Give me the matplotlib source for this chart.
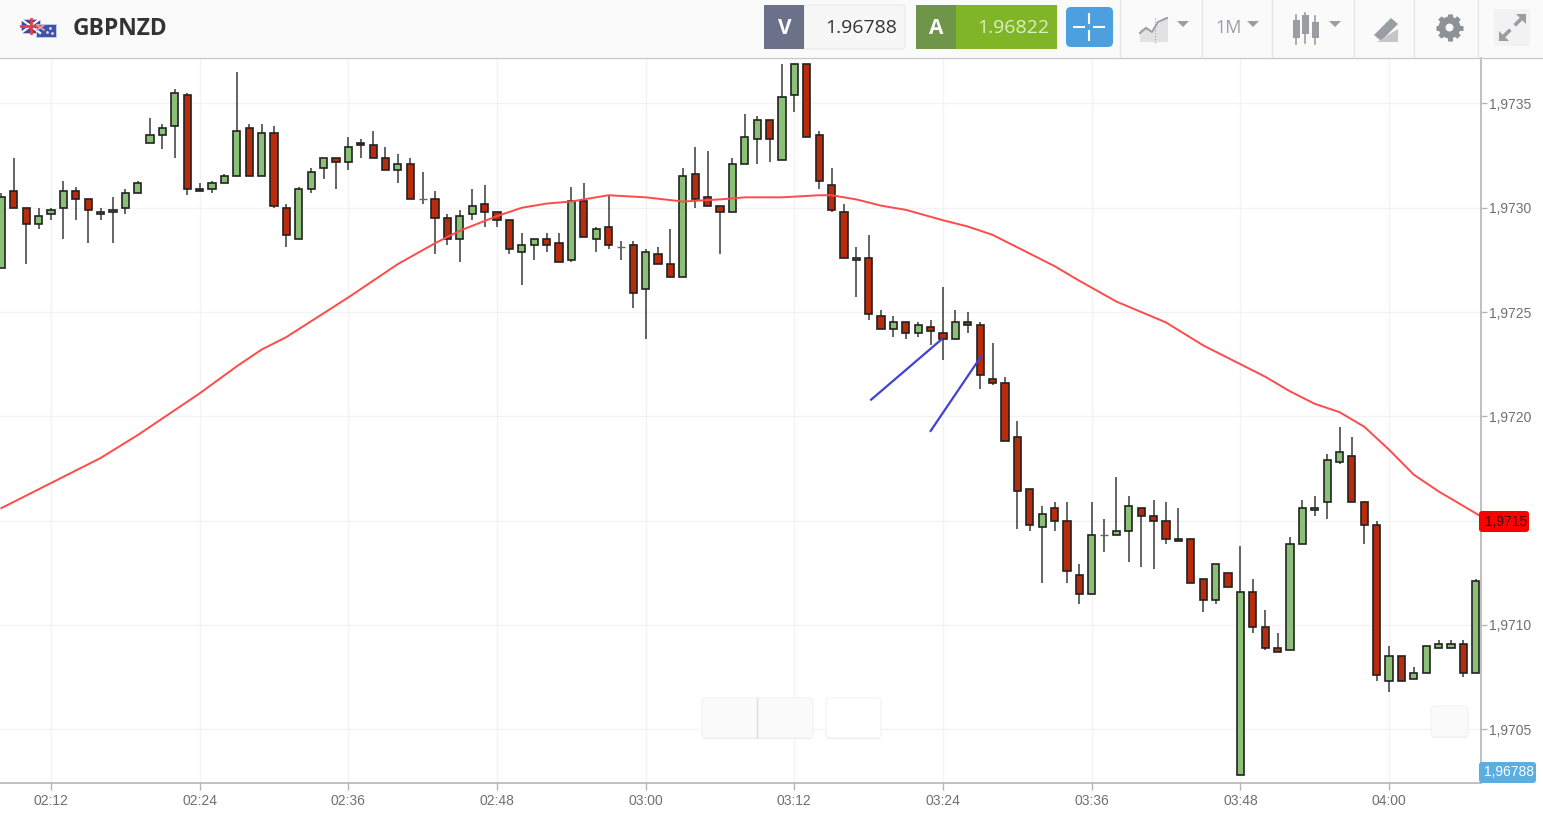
"""GBPNZD one minute candles with moving average, trading platform look."""
import math

import matplotlib
matplotlib.use("Agg")
import matplotlib.pyplot as plt
from matplotlib.patches import Circle, FancyBboxPatch, Polygon, Rectangle

# prices are stored as 1e-5 steps above this level
BASE = 1.97
STEP = 1e-5

opens = [271, 308, 300, 292, 297, 300, 308, 304, 297, 298, 300, 307, 331, 335, 339, 354, 309, 309, 312, 315,
         338, 315, 336, 300, 285, 309, 319, 324, 322, 331, 330, 324, 318, 321, 304, 304, 295, 285, 297, 302,
         298, 294, 279, 282, 285, 283, 275, 303, 285, 291, 281, 282, 261, 278, 273, 267, 316, 305, 301, 298,
         321, 333, 342, 323, 354, 369, 335, 311, 298, 275, 276, 248, 242, 245, 240, 243, 240, 237, 245, 244,
         218, 216, 190, 165, 147, 156, 150, 124, 115, 143, 143, 145, 156, 152, 150, 141, 141, 122, 112, 125,
         28, 116, 99, 89, 88, 139, 155, 159, 178, 181, 159, 148, 73, 85, 74, 77, 89, 89, 91, 77]
highs = [307, 324, 300, 300, 300, 313, 310, 304, 300, 305, 309, 313, 343, 340, 357, 355, 312, 313, 316, 365,
         340, 340, 339, 302, 310, 319, 324, 324, 334, 333, 337, 329, 326, 324, 317, 308, 297, 299, 309, 311,
         298, 294, 288, 285, 288, 288, 310, 312, 291, 306, 284, 284, 280, 281, 290, 319, 329, 327, 301, 324,
         345, 344, 342, 369, 369, 369, 337, 319, 302, 281, 287, 251, 248, 245, 245, 246, 262, 251, 250, 245,
         235, 219, 198, 165, 157, 159, 159, 129, 159, 151, 171, 162, 156, 160, 159, 156, 141, 122, 129, 125,
         138, 122, 107, 96, 142, 160, 162, 182, 195, 190, 159, 150, 90, 85, 80, 90, 93, 93, 93, 122]
lows = [271, 300, 273, 290, 294, 285, 294, 283, 294, 283, 297, 307, 331, 328, 324, 306, 308, 307, 312, 315,
        315, 315, 300, 281, 285, 307, 314, 309, 318, 324, 324, 318, 312, 304, 302, 278, 282, 274, 294, 291,
        291, 278, 263, 275, 279, 274, 274, 286, 279, 280, 275, 252, 237, 273, 267, 267, 300, 301, 278, 298,
        321, 321, 322, 323, 346, 334, 309, 298, 276, 257, 246, 242, 238, 237, 238, 234, 227, 237, 240, 213,
        215, 188, 146, 145, 120, 145, 120, 110, 115, 135, 143, 130, 128, 127, 139, 140, 120, 106, 110, 118,
        28, 96, 88, 87, 88, 139, 152, 151, 177, 159, 139, 73, 68, 73, 74, 77, 89, 89, 75, 77]
closes = [305, 300, 292, 296, 299, 308, 304, 299, 298, 299, 307, 312, 335, 338, 355, 309, 308, 312, 315, 337,
          315, 336, 301, 287, 309, 317, 324, 322, 329, 330, 324, 318, 321, 304, 304, 295, 285, 296, 301, 298,
          294, 280, 282, 285, 282, 274, 303, 286, 290, 282, 281, 259, 279, 273, 267, 315, 304, 301, 298, 321,
          334, 342, 333, 353, 369, 334, 313, 299, 276, 276, 249, 242, 245, 240, 244, 241, 237, 245, 244, 220,
          216, 188, 164, 148, 153, 150, 126, 115, 143, 143, 145, 157, 152, 150, 141, 140, 120, 112, 129, 118,
          116, 99, 89, 87, 139, 156, 156, 179, 183, 159, 148, 76, 85, 73, 77, 90, 91, 91, 77, 121]

ma_index = [0, 4, 8, 11, 14, 16, 19, 21, 23, 28, 32, 35, 37, 40, 42, 44, 46, 48, 49, 52, 55, 58, 60, 63, 66, 67,
            69, 71, 73, 76, 78, 80, 82, 85, 87, 90, 94, 97, 102, 104, 106, 108, 110, 112, 114, 116, 118, 119.42]
ma_values = [156, 168, 180, 191, 203, 211, 224, 232, 238, 257, 273, 283, 289, 296, 300, 302, 303, 305, 306, 305,
             303, 304, 305, 305, 306, 306, 304, 301, 299, 294, 291, 287, 281, 272, 265, 255, 245, 234, 219, 212,
             206, 202, 195, 184, 172, 164, 157, 152]

# hand drawn lines on the chart, candle index and price step
trend1_x = [70.2, 75.9]
trend1_y = [208, 237]
trend2_x = [75.0, 79.1]
trend2_y = [193, 229]

y_ticks = [1.9705, 1.9710, 1.9715, 1.9720, 1.9725, 1.9730, 1.9735]
y_labels = ["1,9705", "1,9710", "", "1,9720", "1,9725", "1,9730", "1,9735"]  # 1,9715 sits in the red tag
x_ticks = [4, 16, 28, 40, 52, 64, 76, 88, 100, 112]
x_labels = ["02:12", "02:24", "02:36", "02:48", "03:00", "03:12", "03:24", "03:36", "03:48", "04:00"]

GREEN = "#8bc077"
RED = "#b92b0a"
GREY = "#707070"
ICON = "#9a9da1"
SANS = "Liberation Sans"
HEAD = "Open Sans"
W, H = 1543, 818


def price(steps):
    return [BASE + s * STEP for s in steps]


def box(ax, x0, y0, x1, y1, color, edge="none", radius=3, **kw):
    ax.add_patch(FancyBboxPatch((x0 + radius, y0 + radius), x1 - x0 - 2 * radius, y1 - y0 - 2 * radius,
                                boxstyle=f"round,pad={radius},rounding_size={radius}",
                                fc=color, ec=edge, lw=1, **kw))


def draw_candles(ax):
    for i, (o, h, l, c) in enumerate(zip(price(opens), price(highs), price(lows), price(closes))):
        ax.vlines(i, l, h, color="#3a3a3a", lw=1.1, zorder=2)
        if opens[i] == closes[i]:
            ax.hlines(o, i - 0.33, i + 0.33, color="#666666", lw=1, zorder=3)
            continue
        ax.bar(i, abs(c - o), bottom=min(o, c), width=0.58, color=GREEN if c > o else RED,
               edgecolor="#222222", linewidth=1.2, zorder=3)


def draw_flags(ov):
    ov.add_patch(Rectangle((21, 19), 19, 14, fc="#3b4a9c", ec="#c9cde0", lw=0.6))
    ov.plot([21, 40], [19, 33], color="white", lw=1.6)
    ov.plot([21, 40], [33, 19], color="white", lw=1.6)
    ov.plot([30.5, 30.5], [19, 33], color="#e2404a", lw=2)
    ov.plot([21, 40], [26, 26], color="#e2404a", lw=2)
    ov.add_patch(Rectangle((36, 24), 20, 13, fc="#3d55b0", ec="#c9cde0", lw=0.6))
    ov.plot([37, 44], [25, 30], color="#e8a0b0", lw=1.2)
    ov.plot([37, 44], [30, 25], color="#e8a0b0", lw=1.2)
    for sx, sy in [(50, 28), (47, 32), (52, 33)]:
        ov.plot(sx, sy, ".", color="#f0d0d8", ms=2)


def draw_gear(ov, cx, cy):
    for k in range(8):
        ang = k * math.pi / 4
        ov.plot([cx + 9 * math.cos(ang), cx + 13.5 * math.cos(ang)],
                [cy + 9 * math.sin(ang), cy + 13.5 * math.sin(ang)],
                color="#8e9195", lw=3.6, solid_capstyle="butt")
    ov.add_patch(Circle((cx, cy), 7.5, fc="none", ec="#8e9195", lw=5))


def draw_arrow(ov, tip, tail, sign):
    # diagonal line with a solid right angle head
    ov.plot([tail[0], tip[0] - sign * 5], [tail[1], tip[1] + sign * 5], color=ICON, lw=2.6)
    ov.add_patch(Polygon([tip, (tip[0] - sign * 10, tip[1]), (tip[0], tip[1] + sign * 10)], fc=ICON, ec="none"))


def draw_toolbar(ov):
    ov.add_patch(Rectangle((0, 0), W, 57, fc="#fafafa", ec="none"))
    ov.plot([0, W], [57.5, 57.5], color="#c9c9c9", lw=1)
    for sx in [1120, 1202, 1272, 1354, 1414, 1478]:
        ov.plot([sx, sx], [0, 57], color="#e6e6e6", lw=1)
    draw_flags(ov)
    ov.text(73, 29, "GBPNZD", family=HEAD, fontweight="bold", fontsize=16.5, color="#333333",
            ha="left", va="center")

    box(ov, 804, 5, 905, 49, "#f7f7f7", edge="#ececec")
    ov.add_patch(Rectangle((764, 5), 40, 44, fc="#6b7189", ec="none"))
    ov.text(785, 28, "V", family=HEAD, fontweight="bold", fontsize=15, color="white", ha="center", va="center")
    ov.text(861, 28, "1.96788", family=HEAD, fontsize=14, color="#333333", ha="center", va="center")

    ov.add_patch(Rectangle((956, 5), 101, 44, fc="#7fb526", ec="none"))
    ov.add_patch(Rectangle((916, 5), 40, 44, fc="#6f9648", ec="none"))
    ov.text(936, 28, "A", family=HEAD, fontweight="bold", fontsize=15, color="white", ha="center", va="center")
    ov.text(1013, 28, "1.96822", family=HEAD, fontsize=14, color="#dcefc4", ha="center", va="center")

    box(ov, 1066, 7, 1113, 47, "#4ca0e0", radius=5)
    for xs, ys in [([1074, 1084], [27, 27]), ([1094, 1104], [27, 27]), ([1089, 1089], [14, 23]), ([1089, 1089], [31, 40])]:
        ov.plot(xs, ys, color="white", lw=1.5)

    # chart type icon
    ov.add_patch(Polygon([(1140, 42), (1140, 30), (1146, 27), (1154, 32), (1158, 24), (1168, 18), (1168, 42)],
                         fc="#e2e2e2", ec="none"))
    ov.plot([1140, 1146, 1152, 1158, 1167], [33, 28, 32, 22, 18], color=ICON, lw=1.4)
    ov.plot([1155, 1155], [18, 43], color=ICON, lw=0.8, ls=":")

    for tx in [1183, 1253, 1335]:
        ov.add_patch(Polygon([(tx - 6, 21), (tx + 6, 21), (tx, 27)], fc=ICON, ec="none"))
    ov.text(1229, 28, "1M", family=HEAD, fontsize=13, color=ICON, ha="center", va="center")

    # candles icon
    for cx, y0, y1, top, bot in [(1296, 20, 38, 15, 44), (1305, 15, 34, 13, 43), (1315, 22, 38, 16, 44)]:
        ov.plot([cx, cx], [top, bot], color=ICON, lw=1.2)
        ov.add_patch(Rectangle((cx - 3.5, y0), 7, y1 - y0, fc=ICON, ec="none"))

    # drawing tool icon
    ov.add_patch(Polygon([(1374, 35), (1391, 18), (1398, 24), (1381, 41)], fc=ICON, ec="none"))
    ov.add_patch(Polygon([(1377, 42), (1398, 29), (1398, 42)], fc="#c4c6c9", ec="none"))

    draw_gear(ov, 1449.5, 27.5)

    # expand icon
    ov.add_patch(Rectangle((1494, 9), 36, 37, fc="#f2f2f2", ec="none"))
    draw_arrow(ov, (1526, 14), (1516, 24), 1)
    draw_arrow(ov, (1499, 41), (1509, 31), -1)


def draw_button(ov, x0, y0, x1, y1, color):
    # soft shadow under the button, then its face
    box(ov, x0, y0 + 1, x1, y1 + 1, "#e2e2e2", radius=4)
    box(ov, x0, y0, x1, y1, color, edge="#f4f4f4", radius=4)


def draw_overlay(ov):
    draw_toolbar(ov)

    # empty buttons floating over the chart
    draw_button(ov, 702, 698, 813, 738, "#fafafa")
    ov.plot([756.5, 756.5], [698, 738], color="#dedede", lw=1)
    draw_button(ov, 826, 698, 881, 738, "#ffffff")
    draw_button(ov, 1431, 706, 1468, 737, "#fafafa")

    # price tags on the right scale
    box(ov, 1479, 511, 1529, 532, "#ff0000", radius=3)
    ov.text(1506, 522, "1,9715", family=SANS, fontsize=10, color="#3a1010", ha="center", va="center")
    box(ov, 1479, 762, 1536, 783, "#5aaee0", radius=3)
    ov.text(1509, 772.5, "1,96788", family=SANS, fontsize=10, color="white", ha="center", va="center")


fig = plt.figure(figsize=(W / 100, H / 100), dpi=100, facecolor="white")
ax = fig.add_axes([0, 1 - 783 / H, 1481 / W, (783 - 58) / H])
ax.set_xlim(-0.113, 119.42)
ax.set_ylim(BASE + 24.2 * STEP, BASE + 371.8 * STEP)

ax.grid(True, color="#f3f3f3", lw=1, zorder=0)
ax.set_axisbelow(True)
for side in ["left", "top"]:
    ax.spines[side].set_visible(False)
for side in ["right", "bottom"]:
    ax.spines[side].set_color("#b5b5b5")
    ax.spines[side].set_linewidth(1.2)

ax.yaxis.tick_right()
ax.set_yticks(y_ticks)
ax.set_yticklabels(y_labels, family=SANS, fontsize=10, color=GREY)
ax.set_xticks(x_ticks)
ax.set_xticklabels(x_labels, family=SANS, fontsize=10, color=GREY)
ax.tick_params(axis="y", length=4, width=1, color="#b5b5b5", pad=2)
ax.tick_params(axis="x", length=5, width=1, color="#b5b5b5", pad=3)

draw_candles(ax)
ax.plot(ma_index, price(ma_values), color="#ff4a4a", lw=1.4, zorder=4)
ax.plot(trend1_x, price(trend1_y), color="#3f43cf", lw=1.6, zorder=5)
ax.plot(trend2_x, price(trend2_y), color="#3f43cf", lw=1.6, zorder=5)

ov = fig.add_axes([0, 0, 1, 1], zorder=10)
ov.set_xlim(0, W)
ov.set_ylim(H, 0)
ov.axis("off")
ov.patch.set_alpha(0)
draw_overlay(ov)

fig.savefig("out.png", dpi=100)
